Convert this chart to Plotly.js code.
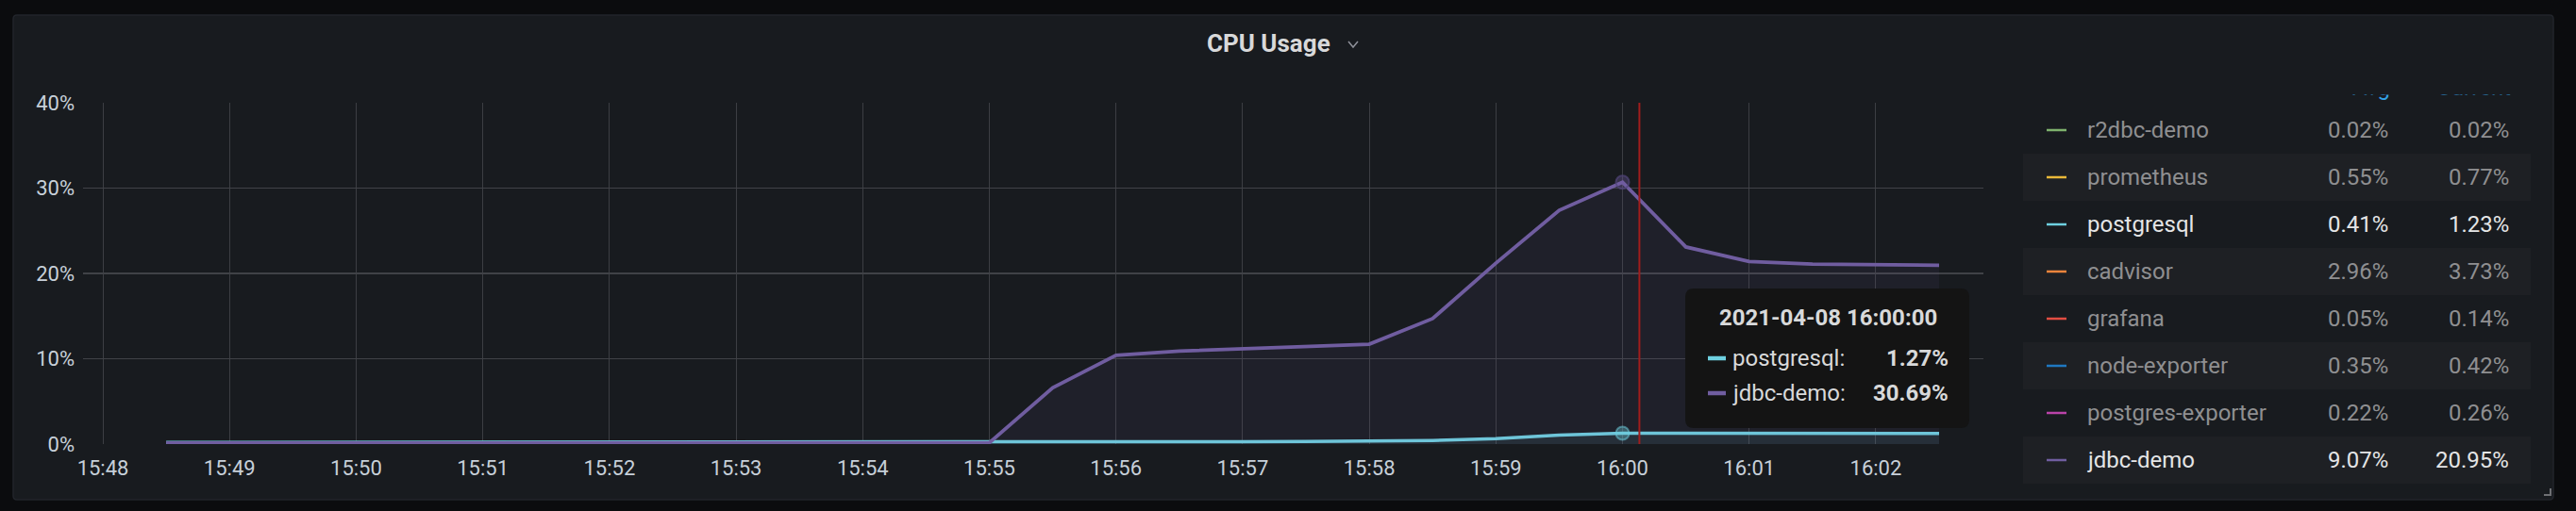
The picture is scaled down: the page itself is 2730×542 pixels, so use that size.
<!DOCTYPE html>
<html>
<head>
<meta charset="utf-8">
<script src="https://cdn.plot.ly/plotly-3.0.1.min.js"></script>
<style>
html,body{margin:0;padding:0;background:#0b0c0e;overflow:hidden}
#chart{width:2730px;height:542px}
</style>
</head>
<body>
<div id="chart"></div>
<script>
// ---- data ----
const times = [
  '2021-04-08 15:48:30','2021-04-08 15:49:00','2021-04-08 15:49:30','2021-04-08 15:50:00',
  '2021-04-08 15:50:30','2021-04-08 15:51:00','2021-04-08 15:51:30','2021-04-08 15:52:00',
  '2021-04-08 15:52:30','2021-04-08 15:53:00','2021-04-08 15:53:30','2021-04-08 15:54:00',
  '2021-04-08 15:54:30','2021-04-08 15:55:00','2021-04-08 15:55:30','2021-04-08 15:56:00',
  '2021-04-08 15:56:30','2021-04-08 15:57:00','2021-04-08 15:57:30','2021-04-08 15:58:00',
  '2021-04-08 15:58:30','2021-04-08 15:59:00','2021-04-08 15:59:30','2021-04-08 16:00:00',
  '2021-04-08 16:00:30','2021-04-08 16:01:00','2021-04-08 16:01:30','2021-04-08 16:02:00',
  '2021-04-08 16:02:30'
];
const postgresql = [
  0.20,0.20,0.20,0.20,0.20,0.20,0.20,0.20,0.20,0.20,0.20,0.20,0.20,0.24,0.26,0.27,
  0.28,0.29,0.30,0.33,0.42,0.63,1.05,1.27,1.27,1.26,1.25,1.24,1.23
];
const jdbcDemo = [
  0.12,0.12,0.12,0.12,0.12,0.12,0.12,0.12,0.12,0.12,0.12,0.12,0.12,0.15,6.6,10.4,
  10.9,11.2,11.5,11.7,14.7,21.2,27.4,30.69,23.1,21.4,21.1,21.0,20.95
];
const seriesNames   = ['r2dbc-demo','prometheus','postgresql','cadvisor','grafana','node-exporter','postgres-exporter','jdbc-demo'];
const seriesColors  = ['#7EB26D','#EAB839','#6ED0E0','#EF843C','#E24D42','#1F78C1','#BA43A9','#705DA0'];
const avgValues     = [0.02,0.55,0.41,2.96,0.05,0.35,0.22,9.07];
const currentValues = [0.02,0.77,1.23,3.73,0.14,0.42,0.26,20.95];
const visibleSeries = ['postgresql','jdbc-demo'];
const legendHeaders = ['Avg','Current'];
const xTickLabels = ['15:48','15:49','15:50','15:51','15:52','15:53','15:54','15:55','15:56','15:57','15:58','15:59','16:00','16:01','16:02'];
const yTicks = [0,10,20,30,40];
const hoverTime = '2021-04-08 16:00:00';
const cursorTime = '2021-04-08 16:00:08';

// ---- geometry helpers (pixel -> paper, margins are zero) ----
const W = 2730, H = 542;
const px = x => x / W;
const py = y => 1 - y / H;
const PLOT = {x0: 88, x1: 2102, y0: 109, y1: 471};

const FONT = 'Roboto, "Open Sans", "DejaVu Sans", sans-serif';
const TEXT = '#c7d0d9';
const PANEL = '#181b1f';

const colorOf = n => seriesColors[seriesNames.indexOf(n)];
const hidx = times.indexOf(hoverTime);

// legend column edges (pixels, layout only)
const COL_NAME = 2210, COL_AVG = 2533, COL_CUR = 2661;

const traces = [
  {x: times, y: postgresql, type: 'scatter', mode: 'lines', name: 'postgresql',
   line: {color: colorOf('postgresql'), width: 3.5}, fill: 'tozeroy', fillcolor: 'rgba(110,208,224,0.09)'},
  {x: times, y: jdbcDemo, type: 'scatter', mode: 'lines', name: 'jdbc-demo',
   line: {color: colorOf('jdbc-demo'), width: 3.8}, fill: 'tozeroy', fillcolor: 'rgba(112,93,160,0.09)'},
  {x: [times[hidx], times[hidx]], y: [postgresql[hidx], jdbcDemo[hidx]], type: 'scatter', mode: 'markers',
   marker: {size: 14, color: ['rgba(110,208,224,0.35)','rgba(112,93,160,0.35)'],
            line: {width: 2, color: ['rgba(110,208,224,0.5)','rgba(80,68,120,0.7)']}}},
  // legend header, scrolled mostly out of view: clipped by its own tiny subplot
  {x: [COL_AVG, COL_CUR], y: [94.7, 94.7], xaxis: 'x2', yaxis: 'y2', type: 'scatter', mode: 'text',
   text: legendHeaders, textposition: 'middle left', cliponaxis: true,
   textfont: {family: FONT, size: 24, color: '#33a2e5'}}
];

function roundRect(x0, y0, x1, y1, r) {
  const P = (x, y) => px(x) + ',' + py(y);
  return 'M' + P(x0 + r, y0) + ' L' + P(x1 - r, y0) + ' Q' + P(x1, y0) + ' ' + P(x1, y0 + r) +
    ' L' + P(x1, y1 - r) + ' Q' + P(x1, y1) + ' ' + P(x1 - r, y1) +
    ' L' + P(x0 + r, y1) + ' Q' + P(x0, y1) + ' ' + P(x0, y1 - r) +
    ' L' + P(x0, y0 + r) + ' Q' + P(x0, y0) + ' ' + P(x0 + r, y0) + ' Z';
}

const shapes = [];
const annotations = [];

// panel
shapes.push({type: 'path', xref: 'paper', yref: 'paper', layer: 'below',
  path: roundRect(14, 16, 2706, 530, 4), fillcolor: PANEL, line: {color: '#22252b', width: 1.5}});

// title + chevron
annotations.push({xref: 'paper', yref: 'paper', x: px(1344), y: py(46), text: 'CPU Usage', showarrow: false,
  xanchor: 'center', yanchor: 'middle', font: {family: FONT, size: 26, color: '#d8d9da', weight: 'bold'}});
shapes.push({type: 'path', xref: 'paper', yref: 'paper', layer: 'above',
  path: 'M' + px(1429) + ',' + py(44) + ' L' + px(1434) + ',' + py(50) + ' L' + px(1439) + ',' + py(44),
  line: {color: '#8e9099', width: 1.5}});

// legend table
const rowY0 = 138, rowH = 50;
seriesNames.forEach((n, i) => {
  const yc = rowY0 + i * rowH;
  const vis = visibleSeries.includes(n);
  const col = vis ? '#e4e5e6' : '#8f8f91';
  if (i % 2 === 1) {
    shapes.push({type: 'rect', xref: 'paper', yref: 'paper', layer: 'below',
      x0: px(2144), x1: px(2682), y0: py(yc - 25), y1: py(yc + 25), fillcolor: '#1e2024', line: {width: 0}});
  }
  shapes.push({type: 'line', xref: 'paper', yref: 'paper', layer: 'above',
    x0: px(2169), x1: px(2190), y0: py(yc), y1: py(yc), line: {color: seriesColors[i], width: 2.5}});
  annotations.push({xref: 'paper', yref: 'paper', x: px(COL_NAME), y: py(yc), text: n, showarrow: false,
    xanchor: 'left', yanchor: 'middle', font: {family: FONT, size: 24, color: col}});
  annotations.push({xref: 'paper', yref: 'paper', x: px(COL_AVG), y: py(yc), text: avgValues[i].toFixed(2) + '%', showarrow: false,
    xanchor: 'right', yanchor: 'middle', font: {family: FONT, size: 24, color: col}});
  annotations.push({xref: 'paper', yref: 'paper', x: px(COL_CUR), y: py(yc), text: currentValues[i].toFixed(2) + '%', showarrow: false,
    xanchor: 'right', yanchor: 'middle', font: {family: FONT, size: 24, color: col}});
});
// resize handle
shapes.push({type: 'path', xref: 'paper', yref: 'paper', layer: 'above',
  path: 'M' + px(2703) + ',' + py(518) + ' L' + px(2703) + ',' + py(525) + ' L' + px(2696) + ',' + py(525),
  line: {color: '#6e6f73', width: 2}});

// cursor line
shapes.push({type: 'line', xref: 'x', yref: 'paper', layer: 'above',
  x0: cursorTime, x1: cursorTime, y0: py(PLOT.y1), y1: py(PLOT.y0), line: {color: '#a11d1d', width: 2}});

// tooltip
shapes.push({type: 'path', xref: 'paper', yref: 'paper', layer: 'above',
  path: roundRect(1786, 306, 2087, 454, 9), fillcolor: '#141414', line: {width: 0}});
annotations.push({xref: 'paper', yref: 'paper', x: px(1937), y: py(337), text: hoverTime, showarrow: false,
  xanchor: 'center', yanchor: 'middle', font: {family: FONT, size: 24, color: '#d8d9da', weight: 'bold'}});
const tipRows = [['postgresql', postgresql[hidx]], ['jdbc-demo', jdbcDemo[hidx]]];
tipRows.forEach((r, i) => {
  const yc = 380 + i * 37;
  shapes.push({type: 'line', xref: 'paper', yref: 'paper', layer: 'above',
    x0: px(1810), x1: px(1829), y0: py(yc), y1: py(yc), line: {color: colorOf(r[0]), width: 4.5}});
  annotations.push({xref: 'paper', yref: 'paper', x: px(1834), y: py(yc), text: r[0] + ':', showarrow: false,
    xanchor: 'left', yanchor: 'middle', font: {family: FONT, size: 24, color: '#d8d9da'}});
  annotations.push({xref: 'paper', yref: 'paper', x: px(2067), y: py(yc), text: r[1].toFixed(2) + '%', showarrow: false,
    xanchor: 'right', yanchor: 'middle', font: {family: FONT, size: 24, color: '#d8d9da', weight: 'bold'}});
});

const layout = {
  width: W, height: H,
  margin: {l: 0, r: 0, t: 0, b: 0, pad: 0},
  paper_bgcolor: '#0b0c0e',
  plot_bgcolor: 'rgba(0,0,0,0)',
  showlegend: false,
  hovermode: false,
  xaxis: {
    domain: [px(PLOT.x0), px(PLOT.x1)],
    type: 'date',
    range: ['2021-04-08 15:47:50.6', '2021-04-08 16:02:51'],
    tickvals: xTickLabels.map(t => '2021-04-08 ' + t),
    ticktext: xTickLabels,
    showgrid: true, gridcolor: '#3c3e43', gridwidth: 1,
    zeroline: false, showline: false, ticks: '',
    ticklabelstandoff: 10, automargin: false,
    tickfont: {family: FONT, size: 22, color: TEXT}
  },
  yaxis: {
    domain: [py(PLOT.y1), py(PLOT.y0)],
    range: [0, 40],
    tickvals: yTicks,
    ticktext: yTicks.map(v => v + '%'),
    showgrid: true, gridcolor: '#404247', gridwidth: 1.5,
    zeroline: false, showline: false, ticks: '',
    ticklabelstandoff: 8, automargin: false,
    tickfont: {family: FONT, size: 22, color: TEXT}
  },
  xaxis2: {
    domain: [px(2440), px(2690)], range: [2440, 2690], anchor: 'y2',
    visible: false, fixedrange: true
  },
  yaxis2: {
    domain: [py(112), py(100.5)], range: [112, 100.5], anchor: 'x2',
    visible: false, fixedrange: true
  },
  shapes: shapes,
  annotations: annotations
};

Plotly.newPlot('chart', traces, layout, {staticPlot: true, displayModeBar: false});
</script>
</body>
</html>
